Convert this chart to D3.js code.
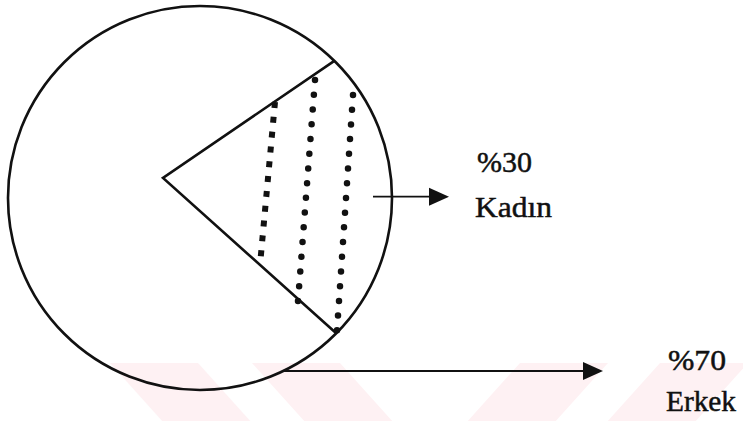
<!DOCTYPE html>
<html>
<head>
<meta charset="utf-8">
<script src="https://cdn.jsdelivr.net/npm/d3@7/dist/d3.min.js"></script>
<style>
  body { margin: 0; background: #fff; }
  svg { display: block; }
  .label { font-family: "Liberation Serif", "Times New Roman", serif; font-size: 30px; fill: #111; stroke: #111; stroke-width: 0.5; }
</style>
</head>
<body>
<script>
// Chart data
var categories = ["Kadın", "Erkek"];
var values = [30, 70];
var percentLabels = ["%30", "%70"];

// SVG area
var svgWidth = 743;
var svgHeight = 421;

var svg = d3.select("body")
  .append("svg")
  .attr("width", svgWidth)
  .attr("height", svgHeight);

svg.append("rect")
  .attr("width", svgWidth)
  .attr("height", svgHeight)
  .attr("fill", "#fff");

// Faint watermark bands at the bottom
var bandTop = 363;
var bandWidth = 88;
var bands = [
  { x: 110, dir: 1 }, { x: 252, dir: 1 },
  { x: 520, dir: -1 }, { x: 660, dir: -1 }
];
svg.append("g").selectAll("polygon")
  .data(bands)
  .enter()
  .append("polygon")
  .attr("points", function (b) {
    var dy = svgHeight - bandTop;
    var dx = 0.9 * dy * b.dir;
    return [[b.x, bandTop], [b.x + bandWidth, bandTop],
            [b.x + bandWidth + dx, svgHeight], [b.x + dx, svgHeight]].join(" ");
  })
  .attr("fill", "#fef1f3");

// Circle geometry (hand drawn: the slice vertex is off centre)
var cx = 200, cy = 198, radius = 192;
var vertex = [163, 178];

// Kadın slice starts at upper right and is drawn spanning about a quarter turn
var startAngle = 44.4 * Math.PI / 180;
var drawnSpan = 90.4 * Math.PI / 180;
var total = d3.sum(values);

var pie = d3.pie()
  .sort(null)
  .startAngle(startAngle)
  .endAngle(startAngle + drawnSpan * total / values[0]);

var slices = pie(values);

function onCircle(a) {
  return [cx + radius * Math.sin(a), cy - radius * Math.cos(a)];
}

var chartGroup = svg.append("g");

// Outline
chartGroup.append("circle")
  .attr("cx", cx)
  .attr("cy", cy)
  .attr("r", radius)
  .attr("fill", "none")
  .attr("stroke", "#111")
  .attr("stroke-width", 2.6);

// Slice edges from the vertex to the circle
var kadin = slices[0];
var upper = onCircle(kadin.startAngle);
var lower = onCircle(kadin.endAngle);

var drawLine = d3.line();
chartGroup.append("path")
  .attr("d", drawLine([upper, vertex, lower]))
  .attr("fill", "none")
  .attr("stroke", "#111")
  .attr("stroke-width", 2.6)
  .attr("stroke-linejoin", "miter");

// Dotted hatching inside the slice (offsets from the vertex)
var hatch = [
  { a: [112, -76], b: [97, 87], square: true },
  { a: [152, -98], b: [135, 123], square: false },
  { a: [190, -83], b: [173, 167], square: false }
];
chartGroup.selectAll(".hatch")
  .data(hatch)
  .enter()
  .append("path")
  .attr("class", "hatch")
  .attr("d", function (h) {
    return drawLine([[vertex[0] + h.a[0], vertex[1] + h.a[1]],
                     [vertex[0] + h.b[0], vertex[1] + h.b[1]]]);
  })
  .attr("fill", "none")
  .attr("stroke", "#111")
  .attr("stroke-width", function (h) { return h.square ? 6 : 6.5; })
  .attr("stroke-linecap", function (h) { return h.square ? "butt" : "round"; })
  .attr("stroke-dasharray", function (h) {
    var len = Math.hypot(h.b[0] - h.a[0], h.b[1] - h.a[1]);
    var n = Math.round(len / 14.7);
    var step = len / n;
    return h.square ? "6 " + (step - 6) : "0 " + step;
  });

// Arrows with labels
var kadinMid = (kadin.startAngle + kadin.endAngle) / 2;
var kadinEdge = onCircle(kadinMid);
var erkekY = 371;
var erkekStart = cx + Math.sqrt(radius * radius - (erkekY - cy) * (erkekY - cy));

var arrows = [
  { x1: kadinEdge[0] - 19, x2: 449, y: kadinEdge[1], tx: 28, ty: [-25, 20], widths: [55, 77] },
  { x1: erkekStart, x2: 603, y: erkekY, tx: 65, ty: [-1, 40], widths: [58, 70] }
];

var arrowGroup = svg.append("g")
  .selectAll("g")
  .data(arrows)
  .enter()
  .append("g");

arrowGroup.append("line")
  .attr("x1", function (d) { return d.x1; })
  .attr("x2", function (d) { return d.x2 - 18; })
  .attr("y1", function (d) { return d.y; })
  .attr("y2", function (d) { return d.y; })
  .attr("stroke", "#111")
  .attr("stroke-width", 1.8);

arrowGroup.append("polygon")
  .attr("points", function (d) {
    return [[d.x2, d.y], [d.x2 - 20, d.y - 9], [d.x2 - 20, d.y + 9]].join(" ");
  })
  .attr("fill", "#111");

arrowGroup.append("text")
  .attr("class", "label")
  .attr("x", function (d) { return d.x2 + d.tx; })
  .attr("y", function (d) { return d.y + d.ty[0]; })
  .attr("textLength", function (d) { return d.widths[0]; })
  .attr("lengthAdjust", "spacingAndGlyphs")
  .text(function (d, i) { return percentLabels[i]; });

arrowGroup.append("text")
  .attr("class", "label")
  .attr("x", function (d) { return d.x2 + d.tx - 2; })
  .attr("y", function (d) { return d.y + d.ty[1]; })
  .attr("textLength", function (d) { return d.widths[1]; })
  .attr("lengthAdjust", "spacingAndGlyphs")
  .text(function (d, i) { return categories[i]; });
</script>
</body>
</html>
